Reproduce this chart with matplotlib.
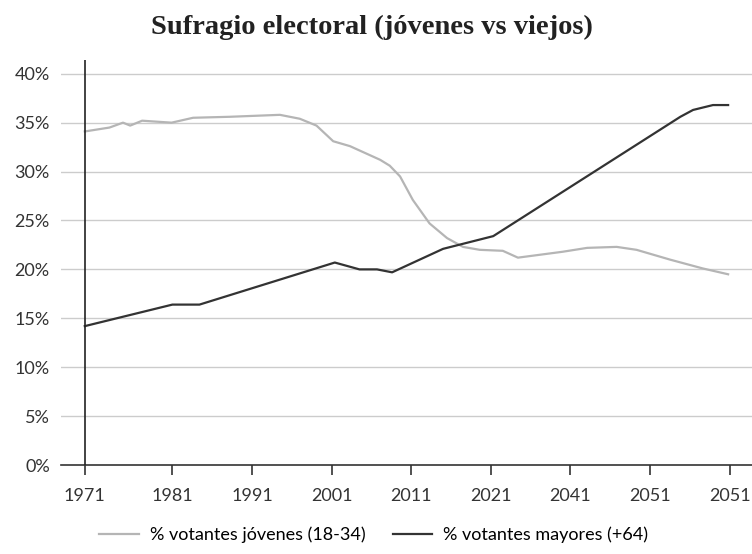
import matplotlib.pyplot as plt
from matplotlib.ticker import FuncFormatter

# data (x as year positions on the axis)
young_x = [1971.0, 1974.1, 1975.8, 1976.7, 1978.2, 1981.9, 1984.6, 1989.2, 1995.5, 1998.0,
           2000.1, 2002.2, 2004.3, 2008.1, 2009.3, 2010.6, 2012.2, 2014.3, 2016.5, 2018.5,
           2020.6, 2023.5, 2025.4, 2031.0, 2034.1, 2037.8, 2040.3, 2044.5, 2048.6, 2051.8]
young_y = [34.1, 34.5, 35.0, 34.7, 35.2, 35.0, 35.5, 35.6, 35.8, 35.4,
           34.7, 33.1, 32.6, 31.2, 30.6, 29.5, 27.1, 24.7, 23.2, 22.3,
           22.0, 21.9, 21.2, 21.8, 22.2, 22.3, 22.0, 21.0, 20.1, 19.5]

old_x = [1971.0, 1982.0, 1985.4, 2002.4, 2005.5, 2007.7, 2009.6, 2016.0, 2022.3,
         2045.8, 2047.4, 2049.9, 2051.8]
old_y = [14.2, 16.4, 16.4, 20.7, 20.0, 20.0, 19.7, 22.1, 23.4,
         35.6, 36.3, 36.8, 36.8]

tick_pos = [1971, 1982, 1992, 2002, 2012, 2022, 2032, 2042, 2052]
tick_labels = ['1971', '1981', '1991', '2001', '2011', '2021', '2041', '2051', '2051']
y_ticks = [0, 5, 10, 15, 20, 25, 30, 35, 40]

LABEL_FONT = 'Lato'

fig = plt.figure(figsize=(7.52, 5.54), dpi=100)
ax = fig.add_axes([0.081, 0.1606, 0.919, 0.731])

ax.set_xlim(1968.0, 2054.8)
ax.set_ylim(0, 41.4)

for yt in y_ticks[1:]:
    ax.axhline(yt, color='#cccccc', lw=1.0, zorder=1)

ax.plot(young_x, young_y, color='#b5b5b5', lw=1.6, label='% votantes jóvenes (18-34)', zorder=3)
ax.plot(old_x, old_y, color='#333333', lw=1.6, label='% votantes mayores (+64)', zorder=4)

# vertical axis line sits at the first year, not at the axes edge
ax.axvline(1971, color='#222222', lw=1.2, zorder=5)

for s in ['top', 'right', 'left']:
    ax.spines[s].set_visible(False)
ax.spines['bottom'].set_color('#333333')
ax.spines['bottom'].set_linewidth(1.2)

ax.set_xticks(tick_pos)
ax.set_xticklabels(tick_labels)
ax.set_yticks(y_ticks)
ax.yaxis.set_major_formatter(FuncFormatter(lambda v, p: f'{int(v)}%'))
ax.tick_params(axis='x', length=7.5, width=1.2, color='#333333', pad=9,
               labelsize=13, labelcolor='#333333')
ax.tick_params(axis='y', length=0, pad=8, labelsize=13, labelcolor='#333333')
for lab in ax.get_xticklabels() + ax.get_yticklabels():
    lab.set_fontfamily(LABEL_FONT)

fig.text(0.495, 0.95, 'Sufragio electoral (jóvenes vs viejos)', ha='center', va='center',
         fontsize=20.5, fontweight='bold', family='Liberation Serif', color='#222222')

fig.legend(loc='center', bbox_to_anchor=(0.497, 0.034), ncol=2, frameon=False,
           prop={'family': LABEL_FONT, 'size': 13}, handlelength=2.2,
           columnspacing=1.5, handletextpad=0.6)

fig.savefig('out.png', dpi=100)
